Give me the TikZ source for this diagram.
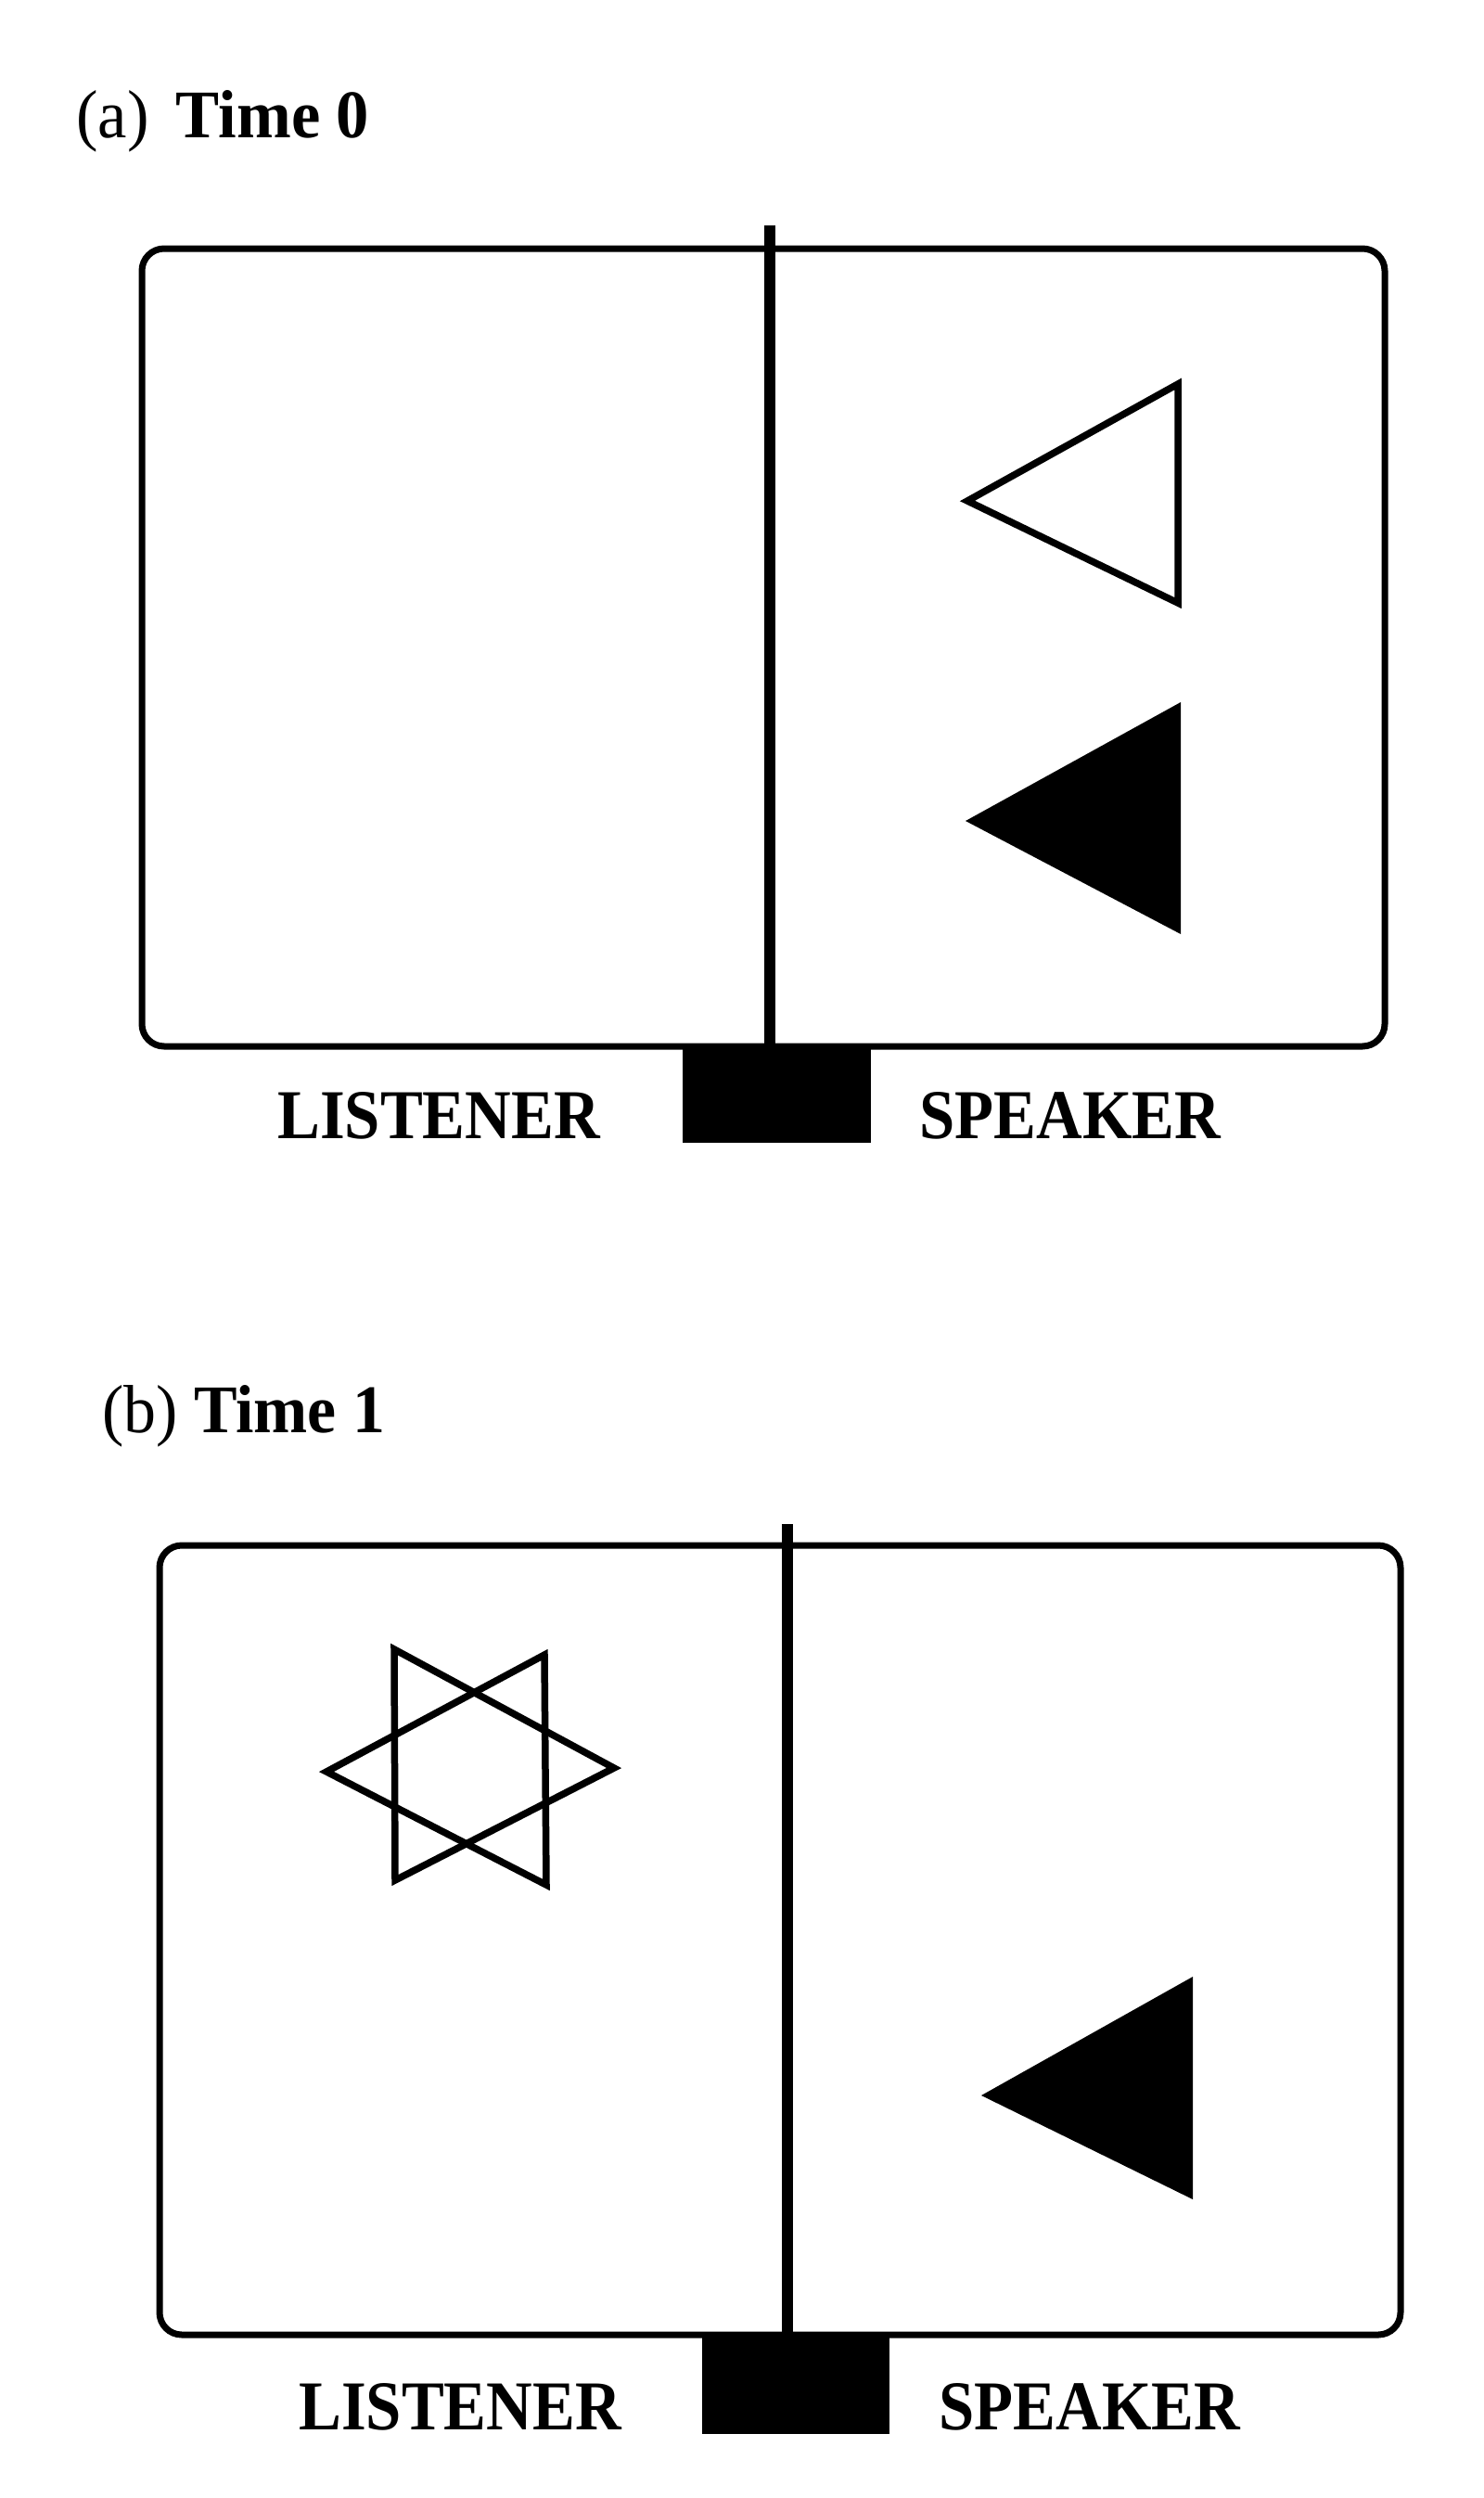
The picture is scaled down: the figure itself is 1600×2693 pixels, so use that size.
\documentclass[tikz,border=0pt]{standalone}
\usepackage{fontspec}
\setmainfont{Liberation Serif}
\begin{document}
\begin{tikzpicture}[x=1pt,y=-1pt,
  frame/.style={line width=7pt, rounded corners=24pt},
  divider/.style={line width=11.5pt},
  shapeline/.style={line width=7.5pt, line join=miter},
  lab/.style={font=\fontsize{75.5}{80}\selectfont\bfseries, inner sep=0pt, anchor=base},
  ttl/.style={font=\fontsize{73.5}{80}\selectfont, inner sep=0pt, anchor=base west}]
\useasboundingbox (0,0) rectangle (1600,2693);
\fill[white] (0,0) rectangle (1600,2693);

% ---------- panel (a) ----------
\node[ttl] (ta) at (82,148) {\scalebox{0.96}[1]{(a)\, \textbf{Time 0}}};
\draw[frame] (153,268) rectangle (1493,1128);
\coordinate (atop) at (830,243);
\coordinate (abot) at (830,1128);
\draw[divider] (atop) -- (abot);
\fill (736,1126) rectangle (939,1232);
\node[lab] (la) at (473,1227) {\scalebox{0.91}[1]{LISTENER}};
\node[lab] (sa) at (1154,1227) {\scalebox{0.91}[1]{SPEAKER}};
\draw[shapeline] (1043,540) -- (1270,414) -- (1270,650) -- cycle;
\fill (1041,885) -- (1273,757) -- (1273,1007) -- cycle;

% ---------- panel (b) ----------
\node[ttl] (tb) at (110,1544) {\scalebox{0.95}[1]{(b) \textbf{Time 1}}};
\draw[frame] (172,1666) rectangle (1510,2517);
\coordinate (btop) at (849,1643);
\coordinate (bbot) at (849,2517);
\draw[divider] (btop) -- (bbot);
\fill (757,2515) rectangle (959,2624);
\node[lab] (lb) at (496,2619) {\scalebox{0.91}[1]{LISTENER}};
\node[lab] (sb) at (1175,2619) {\scalebox{0.91}[1]{SPEAKER}};
\draw[shapeline] (425,1778) -- (426,2027) -- (662,1906) -- cycle;
\draw[shapeline] (587,1784) -- (589,2032) -- (352,1910) -- cycle;
\fill (1058,2259) -- (1286,2131) -- (1286,2371) -- cycle;
\end{tikzpicture}
\end{document}
